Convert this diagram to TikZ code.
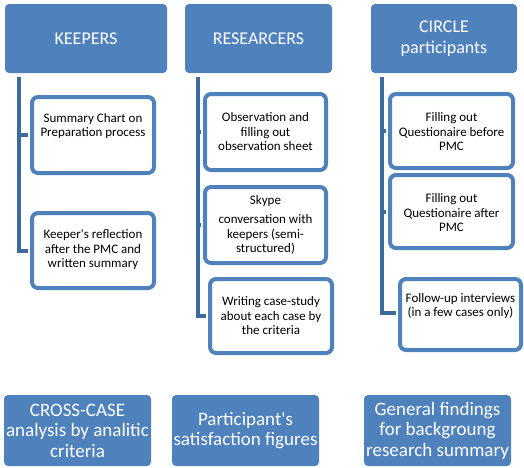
\documentclass[tikz,border=0pt]{standalone}
\usepackage{fontspec}
\setmainfont{Carlito}[Ligatures=TeXOff]
\definecolor{accent}{HTML}{4F81BD}
\definecolor{connc}{HTML}{3D6A9F}
\begin{document}
\begin{tikzpicture}[x=1pt,y=-1pt,
 parent/.style={fill=accent, rounded corners=4pt, text=white, align=center, font=\fontsize{18}{21}\selectfont, inner sep=0pt},
 kid/.style={draw=accent, line width=4pt, fill=white, rounded corners=6pt, inner sep=0pt},
 kidtext/.style={align=center, font=\fontsize{13}{14.5}\selectfont, text=black, inner sep=0pt},
 bottombox/.style={fill=accent, rounded corners=4pt, text=white, align=center, font=\fontsize{19}{20.5}\selectfont, inner sep=0pt, minimum width=147pt, minimum height=71pt},
 conn/.style={draw=connc, line width=4pt}]
\useasboundingbox (0,0) rectangle (524,467);
% parents
\node[parent, minimum width=162pt, minimum height=69pt] (keepers) at (86,38.5) {KEEPERS};
\node[parent, minimum width=147pt, minimum height=69pt] (res) at (258.5,38.5) {RESEARCERS};
\node[parent, minimum width=146pt, minimum height=69pt] (circ) at (444,38.5) {CIRCLE\\participants};
% connector origins
\coordinate (kv) at (19,77);
\coordinate (rv) at (198,77);
\coordinate (cv) at (382,77);
% children boxes
\node[kid, minimum width=122pt, minimum height=76pt] (k1) at (93,135) {};
\node[kid, minimum width=122pt, minimum height=75pt] (k2) at (93,250.5) {};
\node[kid, minimum width=121pt, minimum height=76pt] (r1) at (265.5,132) {};
\node[kid, minimum width=121pt, minimum height=76pt] (r2) at (265.5,225) {};
\node[kid, minimum width=122pt, minimum height=74pt] (r3) at (271,316) {};
\node[kid, minimum width=123pt, minimum height=74pt] (c1) at (451.5,131) {};
\node[kid, minimum width=123pt, minimum height=73pt] (c2) at (451.5,211.5) {};
\node[kid, minimum width=121pt, minimum height=71pt] (c3) at (460.5,314.5) {};
% connectors
\draw[conn] (kv) |- ([xshift=-2pt]k1.west);
\draw[conn] (kv) |- ([xshift=-2pt]k2.west);
\draw[conn] (rv) |- ([xshift=-2pt]r1.west);
\draw[conn] (rv) |- ([xshift=-2pt]r2.west);
\draw[conn] (rv) |- ([xshift=-2pt]r3.west);
\draw[conn] (cv) |- ([xshift=-2pt]c1.west);
\draw[conn] (cv) |- ([xshift=-2pt]c2.west);
\draw[conn] (cv) |- ([xshift=-2pt,yshift=1.5pt]c3.west);
% children texts
\node[kidtext] (k1t) at (93,126) {Summary Chart on\\Preparation process};
\node[kidtext] (k2t) at (93,250) {Keeper's reflection\\after the PMC and\\written summary};
\node[kidtext] (r1t) at (265.5,132) {Observation and\\filling out\\observation sheet};
\node[kidtext] (r2t) at (265.5,225) {Skype\\[5pt]conversation with\\keepers (semi-\\structured)};
\node[kidtext] (r3t) at (271,316) {Writing case-study\\about each case by\\the criteria};
\node[kidtext] (c1t) at (451.5,132) {Filling out\\Questionaire before\\PMC};
\node[kidtext] (c2t) at (451.5,213) {Filling out\\Questionaire after\\PMC};
\node[kidtext] (c3t) at (460.5,306) {Follow-up interviews\\(in a few cases only)};
% bottom boxes
\node[bottombox] (b1) at (77.5,430.5) {CROSS-CASE\\analysis by analitic\\criteria};
\node[bottombox] (b2) at (245.5,430.5) {Participant's\\satisfaction figures};
\node[bottombox] (b3) at (437.5,430.5) {General findings\\for backgroung\\research summary};
\end{tikzpicture}
\end{document}
